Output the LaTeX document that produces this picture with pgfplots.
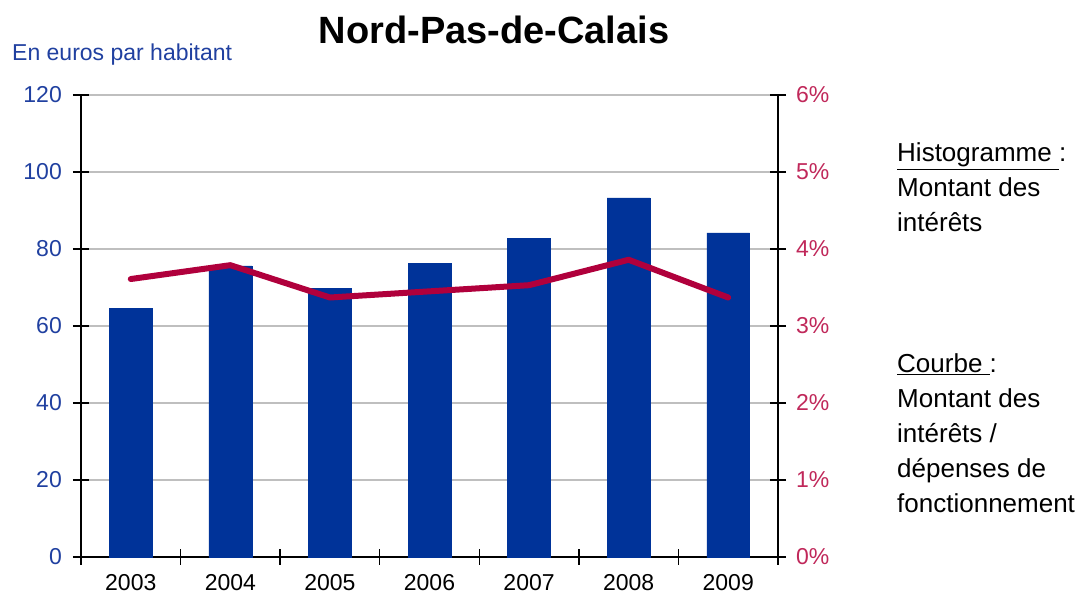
\documentclass[border=0pt]{standalone}
\usepackage{fontspec}
\setmainfont{Liberation Sans}
\usepackage{pgfplots}
\pgfplotsset{compat=1.18}
\definecolor{barblue}{RGB}{0,51,153}
\definecolor{linered}{RGB}{176,0,60}
\definecolor{lblblue}{RGB}{32,64,160}
\definecolor{lblred}{RGB}{192,40,90}
\begin{document}
\begin{tikzpicture}[x=1pt,y=1pt]
\path[use as bounding box] (0,0) rectangle (1084,602);
\begin{axis}[
  at={(81pt,45pt)}, anchor=south west, scale only axis,
  width=697pt, height=462pt,
  xmin=-0.5, xmax=6.5, ymin=0, ymax=120,
  axis x line*=bottom, axis y line*=left,
  axis line style={black, line width=1.3pt},
  xtick={-0.5,0.5,1.5,2.5,3.5,4.5,5.5,6.5},
  xticklabels={},
  extra x ticks={0,1,2,3,4,5,6},
  extra x tick labels={2003,2004,2005,2006,2007,2008,2009},
  extra x tick style={major tick length=0pt, grid=none},
  ytick={0,20,...,120},
  tick style={black, line width=1.3pt},
  xtick style={black, line width=1.3pt},
  every tick/.append style={black, line width=1.3pt},
  ymajorgrids, grid style={black!25, line width=1.2pt},
  tick align=center, major tick length=16pt,
  /pgf/number format/assume math mode=true,
  tick label style={font=\fontsize{23}{27}\selectfont},
  yticklabel style={anchor=east, inner sep=0pt, xshift=-11pt, text=lblblue},
  xticklabel style={anchor=north, inner sep=0pt, yshift=-17pt, text=black},
  clip=false,
]
\addplot[ybar, bar width=0.43, fill=barblue, draw=barblue] coordinates {
  (0,64.5) (1,75.6) (2,69.7) (3,76.3) (4,82.8) (5,93.3) (6,84.2)};
\end{axis}
\begin{axis}[
  at={(81pt,45pt)}, anchor=south west, scale only axis,
  width=697pt, height=462pt,
  xmin=-0.5, xmax=6.5, ymin=0, ymax=6,
  axis x line=none, axis y line*=right,
  axis line style={black, line width=1.3pt},
  ytick={0,...,6},
  yticklabel={\pgfmathprintnumber{\tick}\%},
  tick style={black, line width=1.3pt},
  tick align=center, major tick length=16pt,
  /pgf/number format/assume math mode=true,
  tick label style={font=\fontsize{23}{27}\selectfont},
  yticklabel style={anchor=west, inner sep=0pt, xshift=10pt, text=lblred},
  clip=false,
]
\addplot[linered, line width=6pt, line join=round, line cap=round] coordinates {
  (0,3.61) (1,3.79) (2,3.37) (3,3.45) (4,3.53) (5,3.86) (6,3.37)};
\end{axis}
\node[anchor=base, inner sep=0pt, font=\fontsize{38}{44}\selectfont\bfseries] at (494,558) {Nord-Pas-de-Calais};
\node[anchor=base west, inner sep=0pt, text=lblblue, font=\fontsize{23}{27}\selectfont] at (12,541) {En euros par habitant};
\begin{scope}[every node/.style={anchor=base west, inner sep=0pt, font=\fontsize{26}{30}\selectfont}]
\node at (897,440) {\underline{Histogramme\ }:};
\node at (897,405) {Montant des};
\node at (897,370) {intérêts};
\node at (897,229) {\underline{Courbe\ }:};
\node at (897,194) {Montant des};
\node at (897,159) {intérêts /};
\node at (897,124) {dépenses de};
\node at (897,89) {fonctionnement};
\end{scope}
\end{tikzpicture}
\end{document}
